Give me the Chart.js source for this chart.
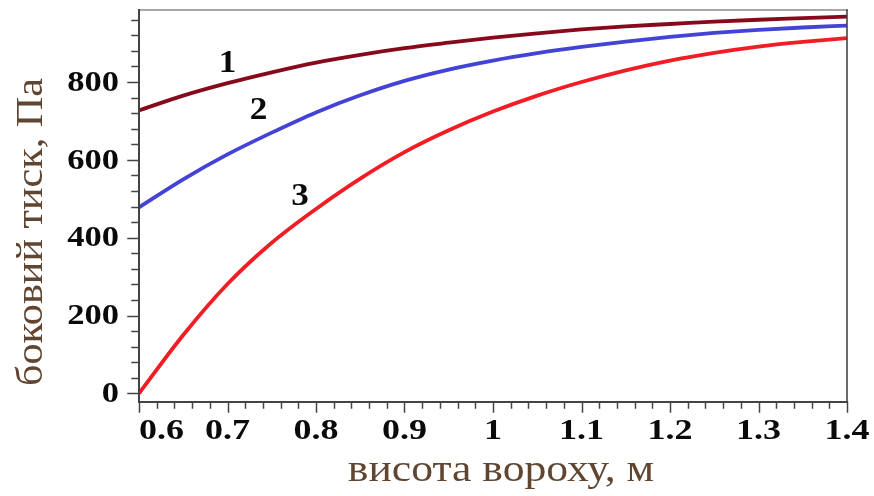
<!DOCTYPE html>
<html><head><meta charset="utf-8">
<script src="https://cdn.jsdelivr.net/npm/chart.js@4/dist/chart.umd.min.js"></script>
<style>html,body{margin:0;padding:0;background:#fff;}#wrap{width:874px;height:496px;}</style>
</head><body><div id="wrap"><canvas id="c" width="874" height="496"></canvas></div>
<script>
// ---- data ----
const heights   = [0.6, 0.65, 0.7, 0.75, 0.8, 0.85, 0.9, 0.95, 1.0, 1.05, 1.1, 1.15, 1.2, 1.25, 1.3, 1.35, 1.4];
const pressure1 = [727, 765, 797, 825, 850, 870, 887, 901, 914, 925, 935, 943, 949, 955, 960, 964, 968];
const pressure2 = [478, 550, 614, 670, 722, 766, 803, 832, 855, 874, 890, 904, 916, 926, 934, 940, 945];
const pressure3 = [0, 150, 281, 387, 474, 552, 620, 676, 724, 765, 800, 830, 855, 875, 891, 903, 913];
const curveNames  = ['1', '2', '3'];
const curveNameX  = [0.700, 0.735, 0.782];
const curveNameY  = [848, 725, 506];
const xTickValues = [0.6, 0.7, 0.8, 0.9, 1.0, 1.1, 1.2, 1.3, 1.4];
const xTickLabels = ['0.6', '0.7', '0.8', '0.9', '1', '1.1', '1.2', '1.3', '1.4'];
const yTickValues = [0, 200, 400, 600, 800];
const yTickLabels = ['0', '200', '400', '600', '800'];
const xTitle = 'висота вороху, м';
const yTitle = 'боковий тиск, Па';

const colors = ['#870a1c', '#4343d6', '#f01e24'];

function series(vals) { return heights.map((h, i) => ({ x: h, y: vals[i] })); }

function wideText(ctx, text, x, y, sx, align) {
  ctx.save();
  ctx.translate(x, y);
  ctx.scale(sx, 1);
  ctx.textAlign = align;
  ctx.fillText(text, 0, 0);
  ctx.restore();
}

const decor = {
  id: 'decor',
  afterDraw(chart) {
    const ctx = chart.ctx;
    const { left, right, top, bottom } = chart.chartArea;
    const xs = chart.scales.x, ys = chart.scales.y;
    ctx.save();
    // frame
    ctx.lineCap = 'square';
    ctx.strokeStyle = '#8a8a8a'; ctx.lineWidth = 1.5;
    ctx.beginPath(); ctx.moveTo(left, top); ctx.lineTo(right, top); ctx.stroke();
    ctx.strokeStyle = '#3a3a3a'; ctx.lineWidth = 1.5;
    ctx.beginPath(); ctx.moveTo(right, top); ctx.lineTo(right, bottom); ctx.stroke();
    ctx.strokeStyle = '#444'; ctx.lineWidth = 2;
    ctx.beginPath(); ctx.moveTo(left, top); ctx.lineTo(left, bottom); ctx.lineTo(right, bottom); ctx.stroke();
    // x ticks (minor every 0.02)
    ctx.strokeStyle = '#444'; ctx.lineWidth = 1.5;
    for (let k = 0; k <= 40; k++) {
      const v = 0.6 + k * 0.02;
      const px = Math.round(xs.getPixelForValue(v)) + 0.5;
      const len = (k % 5 === 0) ? 10 : 6;
      ctx.beginPath(); ctx.moveTo(px, bottom); ctx.lineTo(px, bottom + len); ctx.stroke();
    }
    // y ticks (minor every 40)
    for (let k = 0; k <= 24; k++) {
      const v = k * 40;
      const py = Math.round(ys.getPixelForValue(v)) + 0.5;
      const len = (k % 5 === 0) ? 11 : 7;
      ctx.beginPath(); ctx.moveTo(left, py); ctx.lineTo(left - len, py); ctx.stroke();
    }
    // tick labels
    ctx.fillStyle = '#0a0a0a';
    ctx.font = 'bold 30px "Liberation Serif", "DejaVu Serif", serif';
    ctx.textBaseline = 'middle';
    xTickValues.forEach((v, i) => {
      const px = xs.getPixelForValue(v);
      wideText(ctx, xTickLabels[i], px, bottom + 29, 1.2, i === 0 ? 'left' : 'center');
    });
    yTickValues.forEach((v, i) => {
      wideText(ctx, yTickLabels[i], left - 20, ys.getPixelForValue(v) + 1, 1.15, 'right');
    });
    // curve numbers
    ctx.font = 'bold 32px "Liberation Serif", "DejaVu Serif", serif';
    curveNames.forEach((t, i) => {
      wideText(ctx, t, xs.getPixelForValue(curveNameX[i]), ys.getPixelForValue(curveNameY[i]), 1.1, 'center');
    });
    // axis titles
    ctx.fillStyle = '#604530';
    ctx.font = '37px "Liberation Serif", "DejaVu Serif", serif';
    wideText(ctx, xTitle, 501, 471, 1.18, 'center');
    ctx.translate(32, 232);
    ctx.rotate(-Math.PI / 2);
    wideText(ctx, yTitle, 0, 0, 1.14, 'center');
    ctx.restore();
  }
};

new Chart(document.getElementById('c'), {
  type: 'line',
  data: {
    datasets: [pressure1, pressure2, pressure3].map((vals, i) => ({
      label: curveNames[i],
      data: series(vals),
      borderColor: colors[i],
      borderWidth: 3.8,
      pointRadius: 0,
      fill: false,
      cubicInterpolationMode: 'monotone'
    }))
  },
  options: {
    responsive: false,
    animation: false,
    devicePixelRatio: 1,
    layout: { padding: { top: 10, right: 27, left: 0, bottom: 0 } },
    plugins: { legend: { display: false }, tooltip: { enabled: false } },
    scales: {
      x: {
        type: 'linear', min: 0.6, max: 1.4,
        afterBuildTicks: s => { s.ticks = xTickValues.map(v => ({ value: v })); },
        ticks: { display: false },
        grid: { display: false },
        border: { display: false },
        afterFit: s => { s.height = 94; }
      },
      y: {
        type: 'linear', min: -22, max: 985,
        afterBuildTicks: s => { s.ticks = yTickValues.map(v => ({ value: v })); },
        ticks: { display: false },
        grid: { display: false },
        border: { display: false },
        afterFit: s => { s.width = 139; }
      }
    }
  },
  plugins: [decor]
});
</script>
</body></html>
